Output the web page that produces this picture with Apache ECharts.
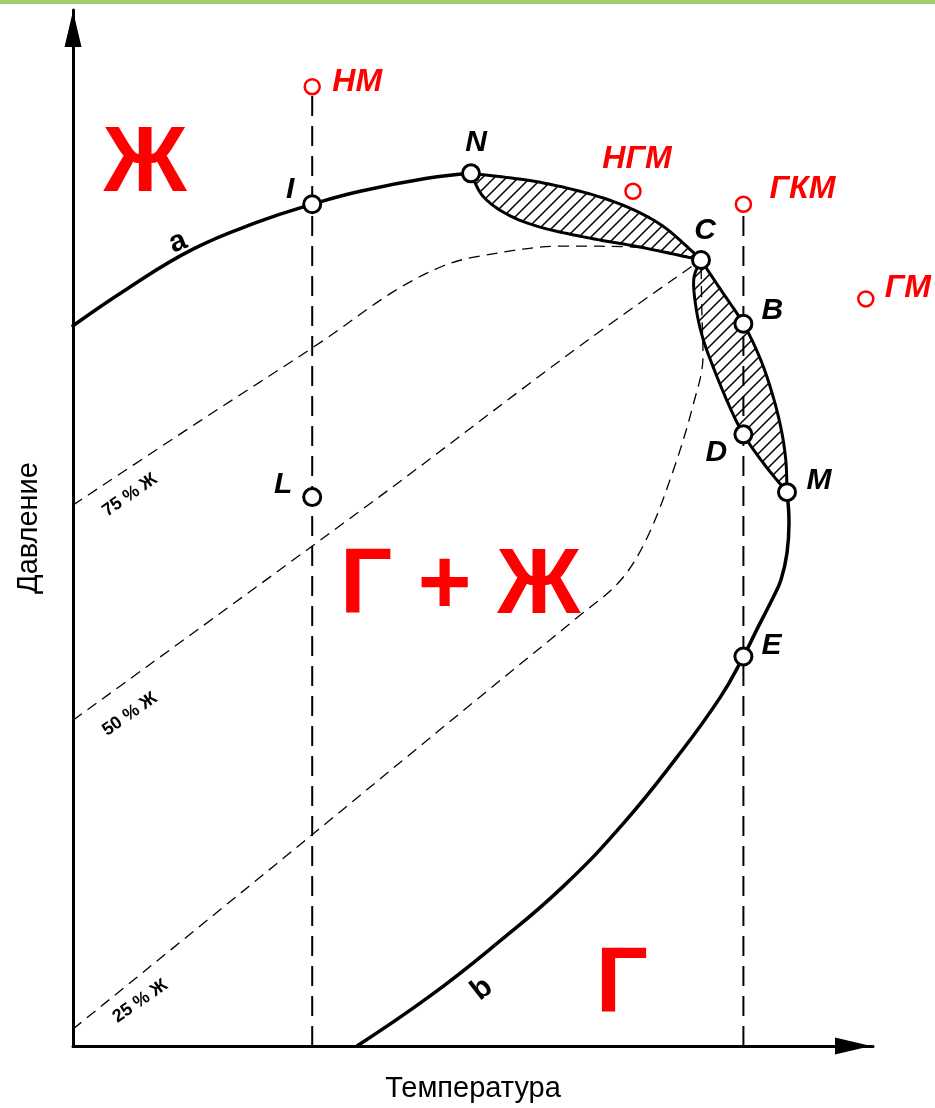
<!DOCTYPE html>
<html>
<head>
<meta charset="utf-8">
<script src="https://cdn.jsdelivr.net/npm/echarts@6/dist/echarts.min.js"></script>
<style>
  html, body { margin: 0; padding: 0; background: #fff; }
  #chart { width: 935px; height: 1108px; }
</style>
</head>
<body>
<div id="chart"></div>
<script>
// Phase diagram of a hydrocarbon mixture: pressure (P) against temperature (T).
// Arbitrary units: T 0..100, P 0..104.

// Bubble-point curve "a": from the pressure axis up to point N
const curveA_T = [0, 6.75, 15, 23.4, 29.9, 35.9, 44.25, 49.75];
const curveA_P = [72.3, 76, 80, 82.8, 84.5, 85.8, 87.1, 87.6];

// Dew-point curve "b": from point M down to the temperature axis
const curveB_T = [89.25, 89.5, 89.25, 88.5, 87.5, 85.6, 83.8, 80.9, 75.5, 68.75, 61.25, 53.0, 44.6, 35.5];
const curveB_P = [55.6, 52.5, 49.5, 46.8, 45.0, 42.0, 39.1, 35.0, 29.0, 22.3, 16.0, 10.3, 5.0, 0];

// Retrograde lens N–C (upper and lower edges)
const lensNC_upT = [49.75, 58.4, 66.75, 73.0, 77.5, 78.5];
const lensNC_upP = [87.6, 86.7, 85.0, 82.7, 79.7, 78.9];
const lensNC_loT = [49.75, 51.25, 54.25, 58.4, 64.6, 70.9, 78.5];
const lensNC_loP = [87.6, 85.3, 83.5, 82.2, 81.1, 80.2, 78.9];

// Retrograde lens C–M (outer edge through B, inner edge through D)
const lensCM_outT = [78.5, 80.9, 83.8, 85.9, 87.4, 88.5, 89.1, 89.25];
const lensCM_outP = [78.9, 76.0, 72.5, 69.0, 65.5, 62.0, 58.8, 55.6];
const lensCM_inT = [78.5, 77.6, 77.9, 78.75, 80.1, 81.9, 83.8, 86.4, 89.25];
const lensCM_inP = [78.9, 77.0, 74.0, 71.0, 68.0, 64.5, 61.4, 58.4, 55.6];

// Iso-liquid lines (share of liquid phase)
const iso75_T = [0, 15.6, 31.25, 40, 46.25, 50.9, 61.25, 70, 78.5];
const iso75_P = [54.3, 62.6, 70.8, 75.7, 78.3, 79.3, 80.3, 80.2, 78.9];
const iso50_T = [0, 38.4, 63.4, 78.5];
const iso50_P = [32.7, 55.2, 70.3, 78.9];
const iso25_T = [0, 25, 50.5, 63, 68.4, 71.75, 75, 77.5, 78.75, 78.6, 78.5];
const iso25_P = [1.7, 18.0, 34.8, 43, 46.7, 51, 57.7, 64.3, 69.3, 74, 78.9];
const isoLabels = ['75 % Ж', '50 % Ж', '25 % Ж'];
const isoLabelT = [7.1, 7.1, 8.4];
const isoLabelP = [55.3, 33.3, 4.5];

// Characteristic points of the envelope
const pointNames = ['I', 'N', 'C', 'B', 'D', 'M', 'E', 'L'];
const pointT = [29.9, 49.75, 78.5, 83.8, 83.8, 89.25, 83.8, 29.9];
const pointP = [84.5, 87.6, 78.9, 72.5, 61.4, 55.6, 39.1, 55.1];

// Deposit types
const fieldNames = ['НМ', 'НГМ', 'ГКМ', 'ГМ'];
const fieldT = [29.9, 70, 83.8, 99.1];
const fieldP = [96.3, 85.8, 84.5, 75];

// Isotherms through НМ and ГКМ
const isothermT = [29.9, 83.8];
const isothermTopP = [96.3, 84.5];

// Phase regions and curve names
const regionNames = ['Ж', 'Г + Ж', 'Г'];
const regionT = [9, 48.4, 68.6];
const regionP = [88.4, 46, 6];
const curveNames = ['a', 'b'];
const curveNameT = [13.1, 51.1];
const curveNameP = [80.7, 5.7];

// ---------- styling ----------
const FONT = '"Liberation Sans", Arial, sans-serif';
const RED = '#ff0000';

const pointLabelOffset = {
  I: [-22, -15], N: [5, -31], C: [4, -29], B: [29, -13],
  D: [-27, 18], M: [32, -11], E: [28, -11], L: [-29, -12],
  'НМ': [45, -5], 'НГМ': [4, -32], 'ГКМ': [59, -15], 'ГМ': [42, -11]
};
const curveNameRotate = { a: 22, b: 38 };

const zip = (xs, ys) => xs.map((x, i) => [x, ys[i]]);

// Diagonal hatch pattern for the retrograde zones
const hatch = (function () {
  const s = 12;
  const c = document.createElement('canvas');
  c.width = s; c.height = s;
  const g = c.getContext('2d');
  g.strokeStyle = '#000';
  g.lineWidth = 1.5;
  g.beginPath();
  g.moveTo(-1, s + 1); g.lineTo(s + 1, -1);
  g.moveTo(-1, 1); g.lineTo(1, -1);
  g.moveTo(s - 1, s + 1); g.lineTo(s + 1, s - 1);
  g.stroke();
  return c;
})();

// Catmull-Rom densification of a pixel polyline
function spline(pts, n) {
  const out = [];
  for (let i = 0; i < pts.length - 1; i++) {
    const p0 = pts[i - 1] || pts[i], p1 = pts[i], p2 = pts[i + 1], p3 = pts[i + 2] || pts[i + 1];
    for (let k = 0; k < n; k++) {
      const t = k / n, t2 = t * t, t3 = t2 * t;
      const f = (a, b, c, d) => 0.5 * ((2 * b) + (-a + c) * t + (2 * a - 5 * b + 4 * c - d) * t2 + (-a + 3 * b - 3 * c + d) * t3);
      out.push([f(p0[0], p1[0], p2[0], p3[0]), f(p0[1], p1[1], p2[1], p3[1])]);
    }
  }
  out.push(pts[pts.length - 1]);
  return out;
}

const lenses = [
  { aT: lensNC_upT, aP: lensNC_upP, bT: lensNC_loT, bP: lensNC_loP },
  { aT: lensCM_outT, aP: lensCM_outP, bT: lensCM_inT, bP: lensCM_inP }
];

// plain label text without the automatic inside stroke
const plainText = { textBorderWidth: 0, textBorderColor: 'transparent', textShadowBlur: 0 };
// invisible anchor for free-standing text
const textAnchor = { symbolSize: 0, itemStyle: { opacity: 1, color: 'transparent' } };

function dashedLine(T, P) {
  return {
    type: 'line', data: zip(T, P), smooth: 0.35, symbol: 'none', clip: false, silent: true, z: 2,
    lineStyle: { color: '#000', width: 1.3, type: [11, 7] }
  };
}
function solidCurve(T, P) {
  return {
    type: 'line', data: zip(T, P), smooth: 0.45, symbol: 'none', clip: false, silent: true, z: 3,
    lineStyle: { color: '#000', width: 3.5, cap: 'round', join: 'round' }
  };
}

const series = [];

// iso-liquid lines
series.push(dashedLine(iso75_T, iso75_P));
series.push(dashedLine(iso50_T, iso50_P));
series.push(dashedLine(iso25_T, iso25_P));

// isotherms
isothermT.forEach((t, i) => {
  series.push({
    type: 'line', data: [[t, 0], [t, isothermTopP[i]]], symbol: 'none', clip: false, silent: true, z: 2,
    lineStyle: { color: '#000', width: 2, type: [20, 10] }
  });
});

// envelope curves
series.push(solidCurve(curveA_T, curveA_P));
series.push(solidCurve(curveB_T, curveB_P));

// hatched retrograde zones
series.push({
  type: 'custom', coordinateSystem: 'cartesian2d', silent: true, z: 4, clip: false,
  data: lenses.map((l, i) => [i, 0]),
  renderItem: function (params, api) {
    const l = lenses[params.dataIndex];
    const a = spline(l.aT.map((t, i) => api.coord([t, l.aP[i]])), 16);
    const b = spline(l.bT.map((t, i) => api.coord([t, l.bP[i]])), 16).reverse();
    return {
      type: 'polygon',
      shape: { points: a.concat(b.slice(1, -1)) },
      style: { fill: { image: hatch, repeat: 'repeat' }, stroke: '#000', lineWidth: 3, lineJoin: 'round' }
    };
  }
});

// iso-liquid labels
series.push(Object.assign({
  type: 'scatter', silent: true, z: 6,
  data: isoLabels.map((n, i) => ({ name: n, value: [isoLabelT[i], isoLabelP[i]] })),
  label: Object.assign({
    show: true, position: 'inside', formatter: '{b}', rotate: 35,
    fontFamily: FONT, fontWeight: 'bold', fontSize: 18, color: '#000'
  }, plainText)
}, textAnchor));

// curve names
series.push(Object.assign({
  type: 'scatter', silent: true, z: 6,
  data: curveNames.map((n, i) => ({
    name: n, value: [curveNameT[i], curveNameP[i]], label: { rotate: curveNameRotate[n] }
  })),
  label: Object.assign({
    show: true, position: 'inside', formatter: '{b}',
    fontFamily: FONT, fontWeight: 'bold', fontSize: 30, color: '#000'
  }, plainText)
}, textAnchor));

// phase region names
series.push(Object.assign({
  type: 'scatter', silent: true, z: 6,
  data: regionNames.map((n, i) => ({ name: n, value: [regionT[i], regionP[i]] })),
  label: Object.assign({
    show: true, position: 'inside', formatter: '{b}',
    fontFamily: FONT, fontWeight: 'bold', fontSize: 92, color: RED
  }, plainText)
}, textAnchor));

// characteristic points
series.push({
  type: 'scatter', symbol: 'circle', symbolSize: 17, silent: true, z: 8, clip: false,
  itemStyle: { color: '#fff', borderColor: '#000', borderWidth: 3, opacity: 1 },
  data: pointNames.map((n, i) => ({
    name: n, value: [pointT[i], pointP[i]], label: { offset: pointLabelOffset[n] }
  })),
  label: Object.assign({
    show: true, position: 'inside', formatter: '{b}',
    fontFamily: FONT, fontWeight: 'bold', fontStyle: 'italic', fontSize: 30, color: '#000'
  }, plainText)
});

// deposit types
series.push({
  type: 'scatter', symbol: 'circle', symbolSize: 15, silent: true, z: 8, clip: false,
  itemStyle: { color: '#fff', borderColor: RED, borderWidth: 2.5, opacity: 1 },
  data: fieldNames.map((n, i) => ({
    name: n, value: [fieldT[i], fieldP[i]], label: { offset: pointLabelOffset[n] }
  })),
  label: Object.assign({
    show: true, position: 'inside', formatter: '{b}',
    fontFamily: FONT, fontWeight: 'bold', fontStyle: 'italic', fontSize: 32, color: RED
  }, plainText)
});

const axisCommon = {
  type: 'value',
  axisTick: { show: false },
  axisLabel: { show: false },
  splitLine: { show: false },
  nameLocation: 'middle',
  nameTextStyle: { fontFamily: FONT, fontSize: 29, color: '#000' }
};

const chart = echarts.init(document.getElementById('chart'), null, { renderer: 'canvas' });
chart.setOption({
  animation: false,
  backgroundColor: '#fff',
  grid: { left: 73, right: 62, top: 10, bottom: 58, containLabel: false },
  xAxis: Object.assign({}, axisCommon, {
    min: 0, max: 100,
    name: 'Температура', nameGap: 28,
    axisLine: {
      show: true, onZero: false,
      lineStyle: { color: '#000', width: 3 },
      symbol: ['none', 'triangle'], symbolSize: [17, 36], symbolOffset: [0, -20]
    }
  }),
  yAxis: Object.assign({}, axisCommon, {
    min: 0, max: 104,
    name: 'Давление', nameGap: 30, nameRotate: 90,
    axisLine: {
      show: true, onZero: false,
      lineStyle: { color: '#000', width: 3 },
      symbol: ['none', 'triangle'], symbolSize: [17, 36], symbolOffset: [0, -19]
    }
  }),
  graphic: [
    { type: 'rect', left: 0, top: 0, shape: { width: 935, height: 4 }, style: { fill: '#9fcf6f' }, silent: true }
  ],
  series: series
});
</script>
</body>
</html>
